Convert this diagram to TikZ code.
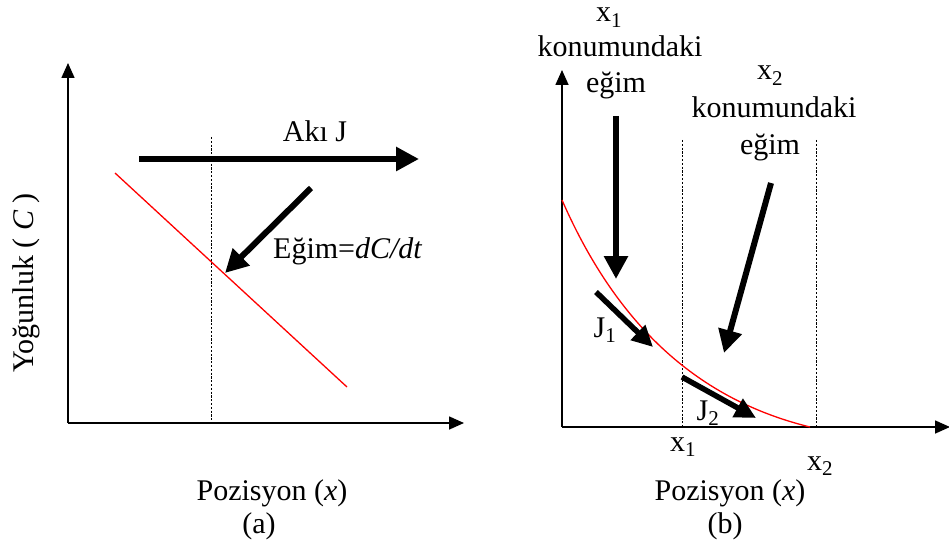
\documentclass[tikz,border=0pt]{standalone}
\usepackage{fontspec}
\setmainfont{Liberation Serif}
\usetikzlibrary{arrows.meta}
\begin{document}
\begin{tikzpicture}[x=1pt,y=-1pt,
  axis/.style={line width=1.6pt,-{Triangle[length=15pt,width=13pt]}},
  bigarrow/.style={line width=6pt,-{Triangle[length=23pt,width=23pt]}},
  smallarrow/.style={line width=5.5pt,-{Triangle[length=21pt,width=20pt]}},
  guide/.style={line width=1pt,dash pattern=on 2.2pt off 1.6pt},
  curve/.style={red,line width=1.3pt},
  lbl/.style={inner sep=0pt,anchor=base,font=\fontsize{30}{36}\selectfont}]
\useasboundingbox (0,0) rectangle (949,545);
% ---------- panel (a) ----------
\coordinate (aO) at (68,423);
\coordinate (aY) at (68,63);
\coordinate (aX) at (464,423);
\draw[axis] (aO) -- (aY);
\draw[axis] (aO) -- (aX);
\coordinate (aDt) at (211,137);
\coordinate (aDb) at (211,423);
\draw[guide] (aDt) -- (aDb);
\coordinate (aR1) at (115,173);
\coordinate (aR2) at (347,387);
\draw[curve] (aR1) -- (aR2);
\coordinate (aJs) at (139,159);
\coordinate (aJe) at (419,159);
\draw[bigarrow] (aJs) -- (aJe);
\coordinate (aSs) at (311,188);
\coordinate (aSe) at (225,273);
\draw[bigarrow] (aSs) -- (aSe);
\node[lbl] (akij) at (315,142) {Akı J};
\node[lbl,anchor=base west] (egima) at (273,258) {Eğim=\textit{dC/dt}};
\node[lbl,rotate=90,anchor=center] (yog) at (26,283) {Yoğunluk ( \textit{C} )};
\node[lbl] (posa) at (272,500) {Pozisyon (\textit{x})};
\node[lbl] (capa) at (259,533) {(a)};
% ---------- panel (b) ----------
\coordinate (bO) at (562,427);
\coordinate (bY) at (562,70);
\coordinate (bX) at (950,427);
\draw[axis] (bO) -- (bY);
\draw[axis] (bO) -- (bX);
\coordinate (bD1t) at (682,140);
\coordinate (bD1b) at (682,427);
\coordinate (bD2t) at (816,140);
\coordinate (bD2b) at (816,427);
\draw[guide] (bD1t) -- (bD1b);
\draw[guide] (bD2t) -- (bD2b);
\coordinate (bC1) at (562,200);
\coordinate (bC2) at (810,427);
\draw[curve] (bC1) .. controls (618,328) and (700,400) .. (bC2);
\coordinate (bA1s) at (616,116);
\coordinate (bA1e) at (616,279);
\draw[bigarrow] (bA1s) -- (bA1e);
\coordinate (bA2s) at (771,183);
\coordinate (bA2e) at (724,353);
\draw[bigarrow] (bA2s) -- (bA2e);
\coordinate (bJ1s) at (596,292);
\coordinate (bJ1e) at (653,347);
\draw[smallarrow] (bJ1s) -- (bJ1e);
\coordinate (bJ2s) at (682,377);
\coordinate (bJ2e) at (756,418);
\draw[smallarrow] (bJ2s) -- (bJ2e);
\node[lbl] (tx1) at (609,22) {x\textsubscript{1}};
\node[lbl] (tk1) at (620,57) {konumundaki};
\node[lbl] (te1) at (616,93) {eğim};
\node[lbl] (tx2) at (770,80) {x\textsubscript{2}};
\node[lbl] (tk2) at (774,118) {konumundaki};
\node[lbl] (te2) at (770,155) {eğim};
\node[lbl] (j1) at (605,337) {J\textsubscript{1}};
\node[lbl] (j2) at (708,420) {J\textsubscript{2}};
\node[lbl] (bx1) at (683,451) {x\textsubscript{1}};
\node[lbl] (bx2) at (820,470) {x\textsubscript{2}};
\node[lbl] (posb) at (730,500) {Pozisyon (\textit{x})};
\node[lbl] (capb) at (725,533) {(b)};
\end{tikzpicture}
\end{document}
